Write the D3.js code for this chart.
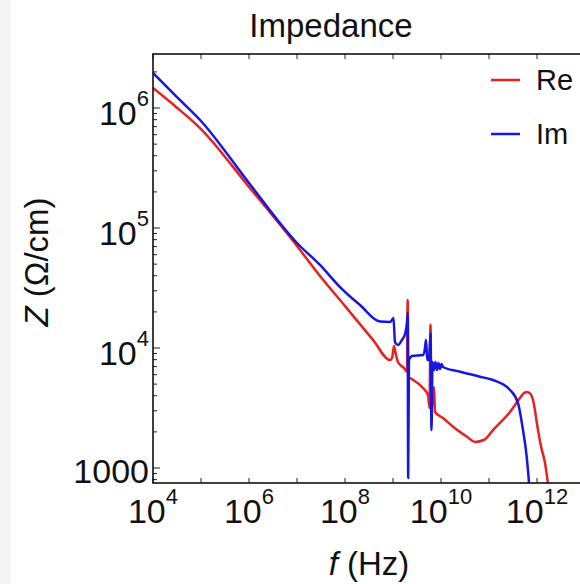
<!DOCTYPE html>
<html>
<head>
<meta charset="utf-8">
<script src="https://cdn.jsdelivr.net/npm/d3@7"></script>
<style>
  body { margin: 0; background: #fff; }
  svg { font-family: "Liberation Sans", Arial, Helvetica, sans-serif; }
</style>
</head>
<body>
<script>
// Re(Z) and Im(Z), f in Hz, Z in Ohm/cm
var reFreq = [1e4, 2.87e4, 1e5, 1e6, 1e7, 3.01e7, 7.87e7, 3.83e8, 8.66e8, 9.53e8, 1.05e9, 1.10e9,
  1.27e9, 1.69e9, 1.96e9, 2.02e9, 2.10e9, 2.26e9, 4.22e9, 5.36e9, 5.76e9, 6.04e9, 6.34e9,
  7.15e9, 7.50e9, 1.10e10, 1.78e10, 3.43e10, 5.11e10, 8.0e10, 1.21e11, 2.74e11, 4.42e11,
  5.36e11, 6.17e11, 7.15e11, 8.25e11, 1.05e12, 1.21e12, 1.47e12, 1.69e12, 2.0e12];
var reZ = [1.47e6, 1.04e6, 6.68e5, 2.20e5, 7.08e4, 3.98e4, 2.51e4, 1.17e4, 7.94e3, 8.25e3, 1.04e4, 9.6e3,
  7.64e3, 6.81e3, 6.31e3, 2.51e4, 5.73e3, 5.62e3, 4.64e3, 4.06e3, 3.16e3, 1.56e4, 3.04e3,
  4.73e3, 2.93e3, 2.61e3, 2.21e3, 1.83e3, 1.65e3, 1.72e3, 2.07e3, 2.93e3, 3.83e3,
  4.22e3, 4.30e3, 4.19e3, 3.69e3, 2.07e3, 1.52e3, 1.10e3, 750, 490];

var imFreq = [1e4, 2.87e4, 1e5, 1e6, 1e7, 3.01e7, 7.87e7, 2.05e8, 5.36e8, 8.66e8, 9.53e8, 1.024e9,
  1.10e9, 1.27e9, 1.54e9, 1.78e9, 1.96e9, 2.02e9, 2.07e9, 2.15e9, 2.49e9, 4.22e9, 4.64e9,
  4.87e9, 5.18e9, 5.62e9, 6.04e9, 6.34e9, 6.65e9, 7.15e9, 7.68e9, 8.25e9, 8.87e9, 9.53e9,
  1.024e10, 1.10e10, 2.49e10, 6.49e10, 1.21e11, 2.74e11, 4.02e11, 5.11e11, 6.1e11, 6.81e11, 7.15e11];
var imZ = [1.96e6, 1.28e6, 7.8e5, 2.37e5, 7.50e4, 4.92e4, 3.22e4, 2.28e4, 1.66e4, 1.65e4, 1.71e4, 1.78e4,
  1.12e4, 1.06e4, 1.17e4, 1.31e4, 1.65e4, 1.96e4, 826, 7.94e3, 8.58e3, 8.74e3, 1.0e4,
  1.17e4, 7.94e3, 7.94e3, 1.33e4, 2.07e3, 7.64e3, 6.56e3, 7.64e3, 6.56e3, 7.50e3, 6.68e3,
  7.36e3, 6.95e3, 6.35e3, 5.77e3, 5.41e3, 4.47e3, 3.48e3, 2.07e3, 1.24e3, 750, 540];

var xExps = [4, 5, 6, 7, 8, 9, 10, 11, 12, 13];
var xLabelExps = [4, 6, 8, 10, 12];
var yExps = [3, 4, 5, 6];

var seriesNames = ["Re", "Im"];
var seriesColors = ["#e8201e", "#1616e0"];

var W = 580, H = 584;
var plot = {left: 153, top: 54, right: 585, bottom: 483};

var svg = d3.select("body").append("svg")
  .attr("width", W).attr("height", H);

svg.append("rect").attr("x", 0).attr("y", 0).attr("width", 11).attr("height", H)
  .attr("fill", "#f4f4f4");

var x = d3.scaleLog().domain([1e4, 1e13]).range([plot.left, plot.right]);
var y = d3.scaleLog().domain([750, 2.82e6]).range([plot.bottom, plot.top]);

svg.append("defs").append("clipPath").attr("id", "clip")
  .append("rect").attr("x", plot.left).attr("y", plot.top)
  .attr("width", plot.right - plot.left).attr("height", plot.bottom - plot.top);

// minor + major ticks on y
var yMinor = [];
for (var e = 2; e <= 6; e++) {
  for (var m = 1; m <= 9; m++) {
    var v = m * Math.pow(10, e);
    if (v >= 750 && v <= 2.82e6) yMinor.push(v);
  }
}

var tickG = svg.append("g").attr("stroke", "#222").attr("stroke-width", 1);
tickG.selectAll("line.ym").data(yMinor).enter().append("line")
  .attr("x1", plot.left).attr("x2", function(d) {
    return plot.left + (Math.abs(Math.log10(d) - Math.round(Math.log10(d))) < 1e-9 ? 7 : 4);
  })
  .attr("y1", function(d) { return y(d); }).attr("y2", function(d) { return y(d); });

var xTicks = xExps.map(function(e) { return Math.pow(10, e); });
tickG.selectAll("line.xb").data(xTicks).enter().append("line")
  .attr("x1", function(d) { return x(d); }).attr("x2", function(d) { return x(d); })
  .attr("y1", plot.bottom).attr("y2", plot.bottom - 5);
tickG.selectAll("line.xt").data(xTicks).enter().append("line")
  .attr("x1", function(d) { return x(d); }).attr("x2", function(d) { return x(d); })
  .attr("y1", plot.top).attr("y2", plot.top + 5);

// curves
var line = d3.line()
  .x(function(d) { return x(d[0]); })
  .y(function(d) { return y(d[1]); })
  .curve(d3.curveMonotoneX);

var series = [
  d3.zip(reFreq, reZ),
  d3.zip(imFreq, imZ)
];

svg.append("g").attr("clip-path", "url(#clip)")
  .selectAll("path").data(series).enter().append("path")
  .attr("d", line)
  .attr("fill", "none")
  .attr("stroke", function(d, i) { return seriesColors[i]; })
  .attr("stroke-width", 2.5)
  .attr("stroke-linejoin", "round");

// frame
svg.append("rect")
  .attr("x", plot.left).attr("y", plot.top)
  .attr("width", plot.right - plot.left).attr("height", plot.bottom - plot.top)
  .attr("fill", "none").attr("stroke", "#111").attr("stroke-width", 1.6);

// x tick labels
var xl = svg.append("g").selectAll("text").data(xLabelExps).enter().append("text")
  .attr("x", function(d) { return x(Math.pow(10, d)); })
  .attr("y", 523)
  .attr("text-anchor", "middle")
  .attr("font-size", 34)
  .attr("fill", "#111");
xl.append("tspan").text("10");
xl.append("tspan").attr("font-size", 22).attr("dy", -19).text(function(d) { return d; });

// y tick labels
var yl = svg.append("g").selectAll("text").data(yExps).enter().append("text")
  .attr("x", 149)
  .attr("y", function(d) { return y(Math.pow(10, d)) + (d === 3 ? 15 : 17); })
  .attr("text-anchor", "end")
  .attr("font-size", 34)
  .attr("fill", "#111");
yl.append("tspan").text(function(d) { return d === 3 ? "1000" : "10"; });
yl.filter(function(d) { return d !== 3; })
  .append("tspan").attr("font-size", 22).attr("dy", -19).text(function(d) { return d; });

// title and axis labels
svg.append("text").attr("x", 331).attr("y", 37).attr("text-anchor", "middle")
  .attr("font-size", 33).attr("fill", "#111").text("Impedance");

var xt = svg.append("text").attr("x", 369).attr("y", 575).attr("text-anchor", "middle")
  .attr("font-size", 33).attr("fill", "#111");
xt.append("tspan").attr("font-style", "italic").text("f");
xt.append("tspan").text(" (Hz)");

var yt = svg.append("text").attr("transform", "translate(48,262) rotate(-90)")
  .attr("text-anchor", "middle").attr("font-size", 33).attr("fill", "#111");
yt.append("tspan").attr("font-style", "italic").text("Z");
yt.append("tspan").text(" (\u03A9/cm)");

// legend
var legendY = [80, 134];
var lg = svg.append("g").selectAll("g").data(seriesNames).enter().append("g");
lg.append("line")
  .attr("x1", 491).attr("x2", 520)
  .attr("y1", function(d, i) { return legendY[i]; })
  .attr("y2", function(d, i) { return legendY[i]; })
  .attr("stroke", function(d, i) { return seriesColors[i]; })
  .attr("stroke-width", 2.5);
lg.append("text")
  .attr("x", 536)
  .attr("y", function(d, i) { return legendY[i] + 10; })
  .attr("font-size", 29).attr("fill", "#111")
  .text(function(d) { return d; });
</script>
</body>
</html>
